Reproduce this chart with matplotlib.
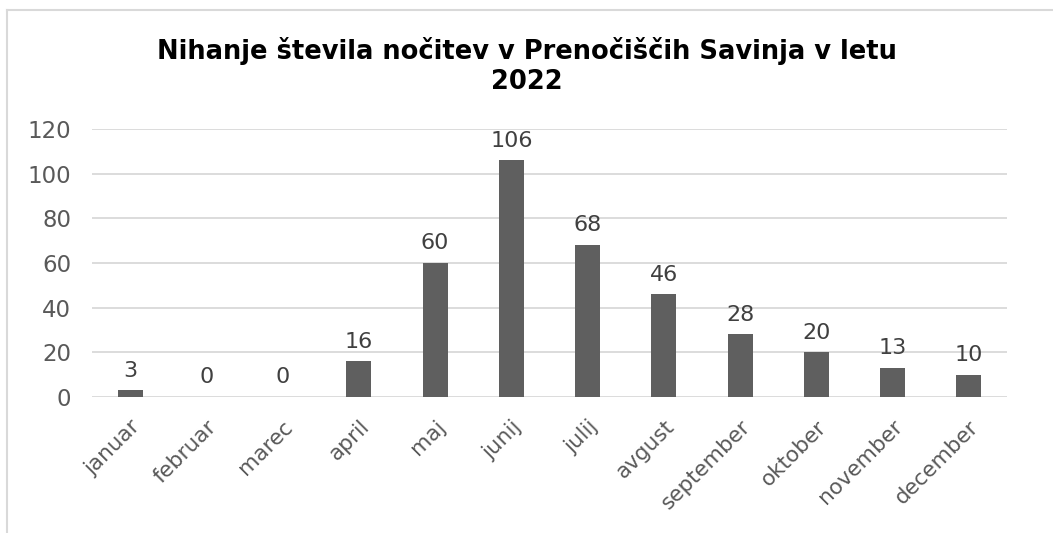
import matplotlib.pyplot as plt
from matplotlib.lines import Line2D

months = ["januar", "februar", "marec", "april", "maj", "junij",
          "julij", "avgust", "september", "oktober", "november", "december"]
nocitve = [3, 0, 0, 16, 60, 106, 68, 46, 28, 20, 13, 10]
y_ticks = [0, 20, 40, 60, 80, 100, 120]

plt.rcParams["font.family"] = "DejaVu Sans"

fig = plt.figure(figsize=(10.53, 5.33), dpi=100)
ax = fig.add_axes([0.0874, 0.2552, 0.8689, 0.5028])

# chart border (Excel style), cut off at right and bottom
W, H = 1053, 533
fig.add_artist(Line2D([7 / W, 7 / W], [0, 1 - 10 / H], transform=fig.transFigure, color="#d9d9d9", lw=1.5))
fig.add_artist(Line2D([7 / W, 1], [1 - 10 / H, 1 - 10 / H], transform=fig.transFigure, color="#d9d9d9", lw=1.5))

x = list(range(len(months)))
bars = ax.bar(x, nocitve, width=0.33, color="#5f5f5f", zorder=3)

for xi, v in zip(x, nocitve):
    ax.annotate(str(v), (xi, v), xytext=(0, 7), textcoords="offset points",
                ha="center", va="bottom", fontsize=16, color="#404040")

ax.set_ylim(0, 120)
ax.set_xlim(-0.5, len(months) - 0.5)
ax.set_yticks(y_ticks)
ax.set_yticklabels([str(t) for t in y_ticks], fontsize=16.5, color="#595959")
ax.set_xticks(x)
ax.set_xticklabels(months, rotation=45, ha="right", rotation_mode="anchor",
                   fontsize=15.5, color="#595959")
ax.tick_params(axis="both", length=0)
ax.tick_params(axis="y", pad=15)
ax.tick_params(axis="x", pad=14)
ax.grid(axis="y", color="#d9d9d9", lw=1.3, zorder=0)
for s in ax.spines.values():
    s.set_visible(False)

fig.text(0.5, 1 - 66 / H, "Nihanje števila nočitev v Prenočiščih Savinja v letu\n2022",
         ha="center", va="center", fontsize=18.5, fontweight="bold", linespacing=1.2)

fig.savefig("out.png", dpi=100)
